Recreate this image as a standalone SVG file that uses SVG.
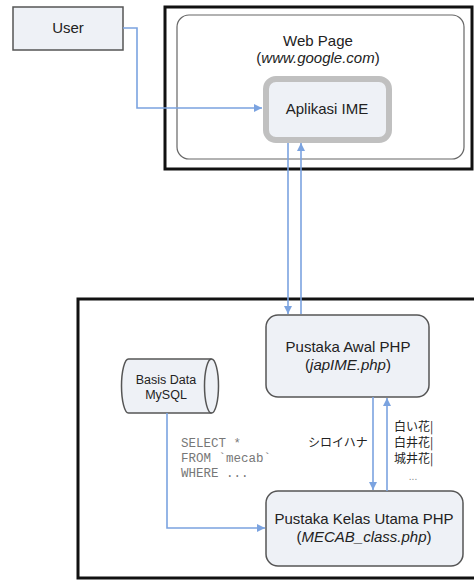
<svg xmlns="http://www.w3.org/2000/svg" width="474" height="580" viewBox="0 0 474 580">
  <style>
    .lbl { font-family: "Liberation Sans", Arial, sans-serif; font-size: 15px; fill: #222; text-anchor: middle; }
    .sm { font-size: 12.5px; }
    .it { font-style: italic; }
    .node { fill: #eef1f6; stroke: #555; stroke-width: 1.5; }
    .frame { fill: #fff; stroke: #111; stroke-width: 3; }
    .link { fill: none; stroke: #7ba3e0; stroke-width: 1.6; }
    .sql { font-family: "Liberation Mono", "Courier New", monospace; font-size: 12.5px; fill: #777; }
    .jp { font-family: "Noto Sans CJK JP", "Noto Sans CJK SC", sans-serif; font-size: 12px; fill: #222; }
    .dots { font-family: "Liberation Sans", Arial, sans-serif; font-size: 10px; fill: #888; text-anchor: middle; }
  </style>
  <defs>
    <marker id="arr" viewBox="0 0 10 10" refX="10" refY="5" markerWidth="9" markerHeight="8" markerUnits="userSpaceOnUse" orient="auto">
      <path d="M0,0 L10,5 L0,10 Z" fill="#7ba3e0"/>
    </marker>
  </defs>
  <rect width="474" height="580" fill="#fff"/>

  <!-- browser frame -->
  <g id="browser">
    <rect class="frame" x="165" y="7" width="307" height="162"/>
    <rect x="177" y="15" width="287" height="144" rx="12" fill="#fff" stroke="#666" stroke-width="1.2"/>
    <text class="lbl" x="318" y="46">Web Page</text>
    <text class="lbl" x="318" y="63">(<tspan class="it">www.google.com</tspan>)</text>
  </g>

  <!-- server frame -->
  <g id="server">
    <rect class="frame" x="78" y="299" width="400" height="279"/>
  </g>

  <g id="user">
    <rect class="node" x="13" y="7" width="110" height="43" rx="0"/>
    <text class="lbl" x="68" y="33">User</text>
  </g>

  <g id="ime">
    <rect x="266" y="79" width="123" height="61" rx="10" fill="#eef1f6" stroke="#c0c0c0" stroke-width="6"/>
    <text class="lbl" x="327" y="114">Aplikasi IME</text>
  </g>

  <g id="japime">
    <rect class="node" x="266" y="315" width="163" height="82" rx="12"/>
    <text class="lbl" x="348" y="352">Pustaka Awal PHP</text>
    <text class="lbl" x="348" y="370">(<tspan class="it">japIME.php</tspan>)</text>
  </g>

  <g id="mecab">
    <rect class="node" x="266" y="491" width="197" height="75" rx="12"/>
    <text class="lbl" x="364" y="524">Pustaka Kelas Utama PHP</text>
    <text class="lbl" x="364" y="542">(<tspan class="it">MECAB_class.php</tspan>)</text>
  </g>

  <g id="mysql">
    <path class="node" d="M128.5,359 L211.5,359 A7 27 0 0 1 211.5,413 L128.5,413 A7 27 0 0 1 128.5,359 Z"/>
    <path d="M211.5,359 A7 27 0 0 0 211.5,413" fill="none" stroke="#555" stroke-width="1.5"/>
    <text class="lbl sm" x="166" y="384">Basis Data</text>
    <text class="lbl sm" x="166" y="399">MySQL</text>
  </g>

  <g id="connectors">
    <polyline class="link" points="123,28 137,28 137,108 262,108" marker-end="url(#arr)"/>
    <line class="link" x1="288" y1="143" x2="288" y2="314" marker-end="url(#arr)"/>
    <line class="link" x1="301" y1="314" x2="301" y2="143" marker-end="url(#arr)"/>
    <line class="link" x1="373" y1="397" x2="373" y2="490" marker-end="url(#arr)"/>
    <line class="link" x1="387" y1="491" x2="387" y2="398" marker-end="url(#arr)"/>
    <polyline class="link" points="167,413 167,528 265,528" marker-end="url(#arr)"/>
  </g>

  <g id="labels">
    <text class="sql" x="181" y="447">SELECT *</text>
    <text class="sql" x="181" y="462">FROM `mecab`</text>
    <text class="sql" x="181" y="477">WHERE ...</text>
    <text class="jp" x="308" y="447">シロイハナ</text>
    <text class="jp" x="394" y="431">白い花|</text>
    <text class="jp" x="394" y="447">白井花|</text>
    <text class="jp" x="394" y="463">城井花|</text>
    <text class="dots" x="413" y="480">...</text>
  </g>
</svg>
